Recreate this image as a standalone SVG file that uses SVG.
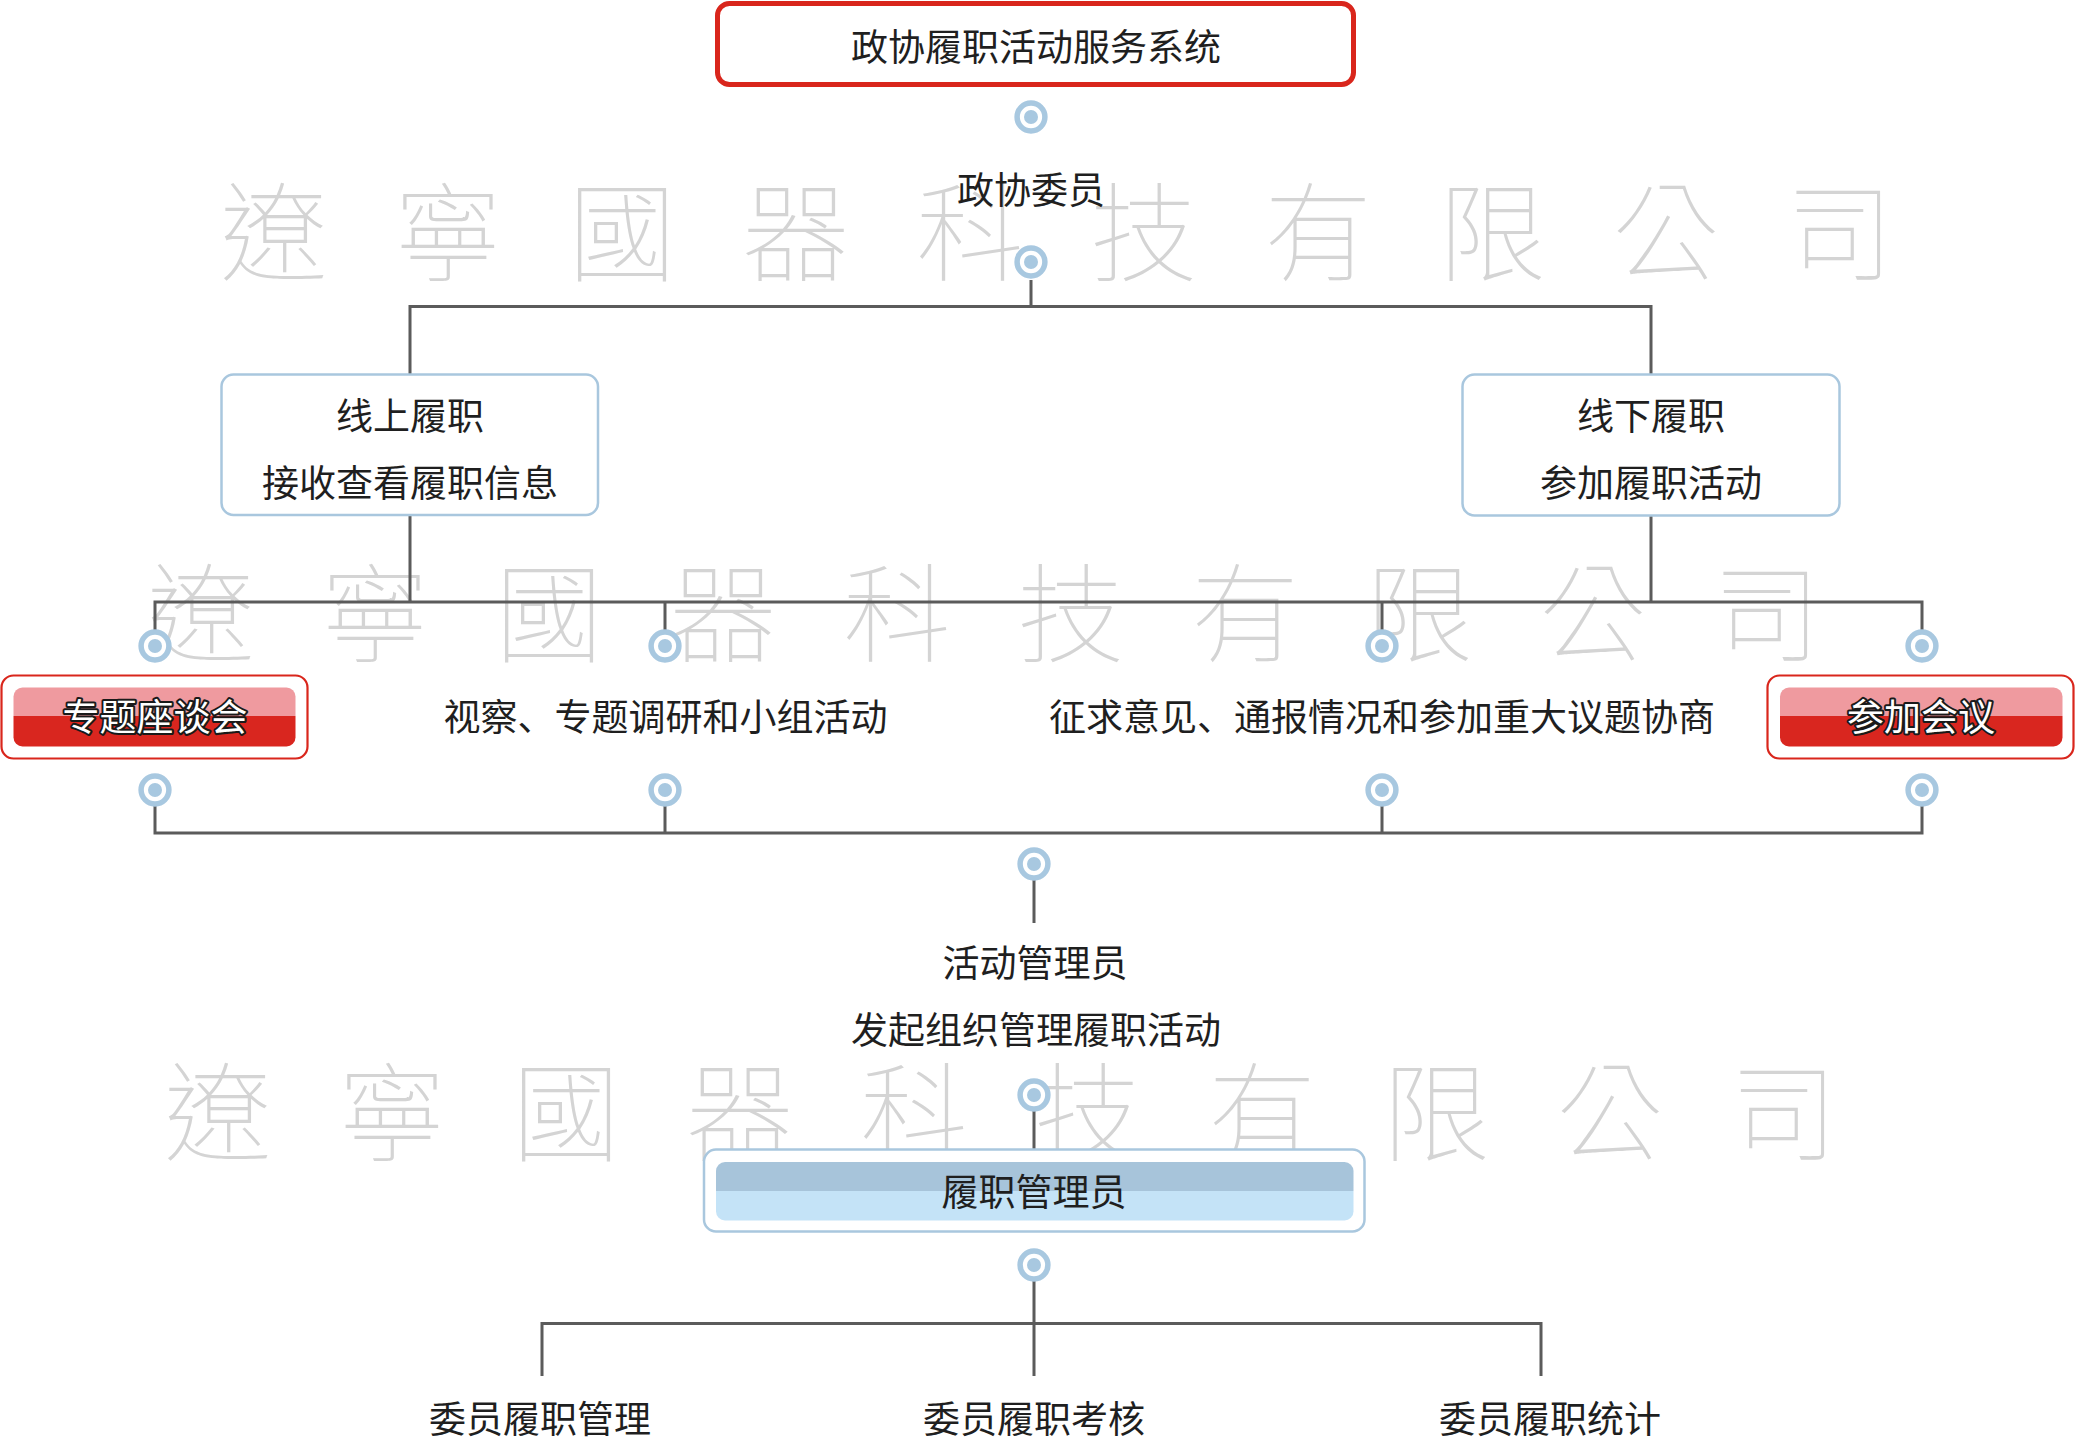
<svg xmlns="http://www.w3.org/2000/svg" width="2076" height="1437" viewBox="0 0 2076 1437">
<defs>
<style>
.t{font-family:"Noto Sans CJK SC","Noto Sans CJK TC",sans-serif;font-size:37px;fill:#1f1f1f;text-anchor:middle}
.tw{font-family:"Noto Sans CJK SC",sans-serif;font-size:37px;fill:#ffffff;stroke:#1a1a1a;stroke-width:4;paint-order:stroke;stroke-linejoin:round;text-anchor:middle}
.wm{font-family:"Noto Sans CJK TC","Noto Sans CJK SC",serif;font-size:108px;font-weight:100;fill:#d4d4d4;text-anchor:middle}
.ln{fill:none;stroke:#5b5b5b;stroke-width:3}
.ring{fill:#ffffff;stroke:#a8c8e0;stroke-width:5.5}
.dot{fill:#a8c8e0}
.bbox{fill:#ffffff;stroke:#a9c7de;stroke-width:2.5}
.rbox{fill:#ffffff;stroke:#d9261c;stroke-width:2.2}
</style>
<linearGradient id="redg" x1="0" y1="0" x2="0" y2="1">
<stop offset="0" stop-color="#ef9a9f"/><stop offset="0.49" stop-color="#ef9a9f"/>
<stop offset="0.49" stop-color="#d9261f"/><stop offset="1" stop-color="#d9261f"/>
</linearGradient>
<linearGradient id="blueg" x1="0" y1="0" x2="0" y2="1">
<stop offset="0" stop-color="#a7c4da"/><stop offset="0.49" stop-color="#a7c4da"/>
<stop offset="0.49" stop-color="#c4e3f7"/><stop offset="1" stop-color="#c4e3f7"/>
</linearGradient>
<g id="pin"><circle r="13.9" class="ring"/><circle r="7" class="dot"/></g>
</defs>
<rect width="2076" height="1437" fill="#ffffff"/>

<g id="watermark">
<g transform="translate(274,273)"><text class="wm" x="0">遼</text><text class="wm" x="174">寧</text><text class="wm" x="348">國</text><text class="wm" x="522">器</text><text class="wm" x="696">科</text><text class="wm" x="870">技</text><text class="wm" x="1044">有</text><text class="wm" x="1218">限</text><text class="wm" x="1392">公</text><text class="wm" x="1566">司</text></g>
<g transform="translate(201,654)"><text class="wm" x="0">遼</text><text class="wm" x="174">寧</text><text class="wm" x="348">國</text><text class="wm" x="522">器</text><text class="wm" x="696">科</text><text class="wm" x="870">技</text><text class="wm" x="1044">有</text><text class="wm" x="1218">限</text><text class="wm" x="1392">公</text><text class="wm" x="1566">司</text></g>
<g transform="translate(218,1153)"><text class="wm" x="0">遼</text><text class="wm" x="174">寧</text><text class="wm" x="348">國</text><text class="wm" x="522">器</text><text class="wm" x="696">科</text><text class="wm" x="870">技</text><text class="wm" x="1044">有</text><text class="wm" x="1218">限</text><text class="wm" x="1392">公</text><text class="wm" x="1566">司</text></g>
</g>

<g id="connectors">
<path class="ln" d="M1031 280 V306.5 M410 374 V306.5 H1651 V374"/>
<path class="ln" d="M410 515 V602 M1651 516 V602 M155 630 V602 H1922 V630 M665 602 V630 M1382 602 V630"/>
<path class="ln" d="M155 805 V833 H1922 V805 M665 805 V833 M1382 805 V833"/>
<path class="ln" d="M1034 880 V923"/>
<path class="ln" d="M1034 1111 V1149"/>
<path class="ln" d="M1034 1281 V1376 M542 1376 V1323.5 H1541 V1376"/>
<use href="#pin" x="1031" y="117"/>
<use href="#pin" x="1031" y="262"/>
<use href="#pin" x="155" y="646"/>
<use href="#pin" x="665" y="646"/>
<use href="#pin" x="1382" y="646"/>
<use href="#pin" x="1922" y="646"/>
<use href="#pin" x="155" y="790"/>
<use href="#pin" x="665" y="790"/>
<use href="#pin" x="1382" y="790"/>
<use href="#pin" x="1922" y="790"/>
<use href="#pin" x="1034" y="864"/>
<use href="#pin" x="1034" y="1095"/>
<use href="#pin" x="1034" y="1265"/>
</g>

<g id="node-system">
<rect x="717.5" y="3.5" width="636" height="81" rx="12" fill="#ffffff" stroke="#d9261c" stroke-width="5"/>
<text class="t" x="1036" y="61">政协履职活动服务系统</text>
</g>

<g id="node-member">
<text class="t" x="1031" y="204">政协委员</text>
</g>

<g id="node-online">
<rect class="bbox" x="221.5" y="374.5" width="376.5" height="140.5" rx="12"/>
<text class="t" x="410" y="430">线上履职</text>
<text class="t" x="410" y="497">接收查看履职信息</text>
</g>

<g id="node-offline">
<rect class="bbox" x="1462.5" y="374.5" width="377" height="141" rx="12"/>
<text class="t" x="1651" y="430">线下履职</text>
<text class="t" x="1651" y="497">参加履职活动</text>
</g>

<g id="node-seminar">
<rect class="rbox" x="1.5" y="675.5" width="306" height="83" rx="12"/>
<rect x="13.5" y="687.5" width="282" height="59" rx="9" fill="url(#redg)"/>
<text class="tw" x="155" y="731">专题座谈会</text>
</g>

<g id="node-inspect">
<text class="t" x="665.5" y="731">视察、专题调研和小组活动</text>
</g>

<g id="node-consult">
<text class="t" x="1382" y="731">征求意见、通报情况和参加重大议题协商</text>
</g>

<g id="node-meeting">
<rect class="rbox" x="1767.5" y="675.5" width="306" height="83" rx="12"/>
<rect x="1780" y="687.5" width="282.5" height="59" rx="9" fill="url(#redg)"/>
<text class="tw" x="1921" y="731">参加会议</text>
</g>

<g id="node-activity-admin">
<text class="t" x="1035" y="977">活动管理员</text>
<text class="t" x="1036" y="1044">发起组织管理履职活动</text>
</g>

<g id="node-duty-admin">
<rect class="bbox" x="704" y="1149.5" width="660.5" height="82" rx="12"/>
<rect x="716" y="1162" width="637.5" height="58.5" rx="9" fill="url(#blueg)"/>
<text class="t" x="1034" y="1206">履职管理员</text>
</g>

<g id="node-m1"><text class="t" x="540" y="1433">委员履职管理</text></g>
<g id="node-m2"><text class="t" x="1034" y="1433">委员履职考核</text></g>
<g id="node-m3"><text class="t" x="1550" y="1433">委员履职统计</text></g>
</svg>
